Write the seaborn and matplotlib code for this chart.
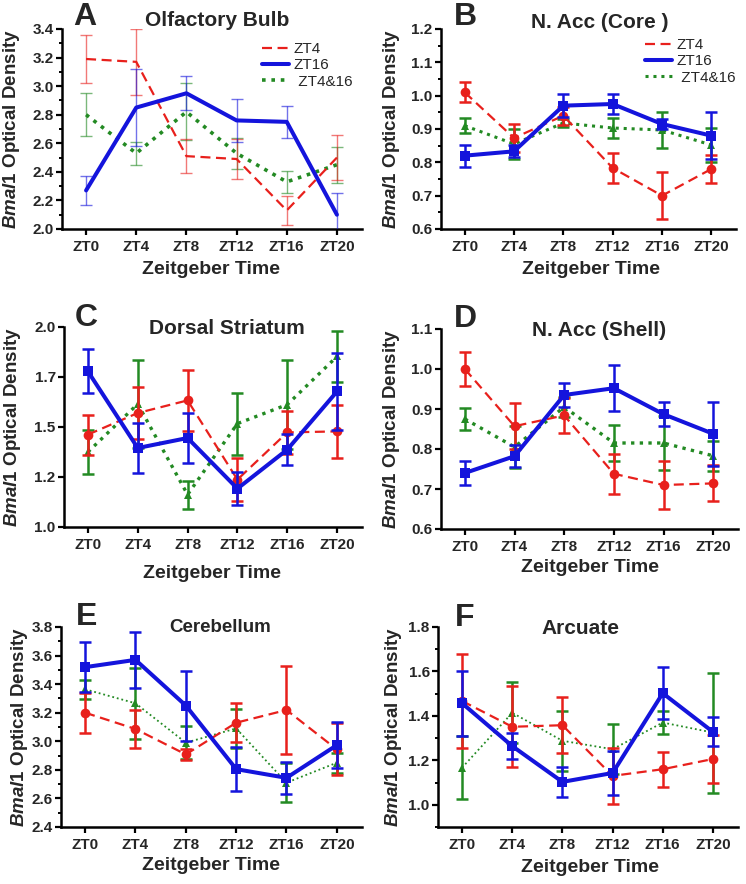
import numpy as np
import pandas as pd
import matplotlib
matplotlib.use("Agg")
import matplotlib.pyplot as plt
from matplotlib.ticker import AutoMinorLocator
import seaborn as sns

sns.set_style("ticks")
plt.rcParams["font.family"] = ["Liberation Sans", "DejaVu Sans"]
plt.rcParams["font.weight"] = "bold"
plt.rcParams["mathtext.fontset"] = "custom"
plt.rcParams["mathtext.it"] = "Liberation Sans:italic:bold"
plt.rcParams["mathtext.rm"] = "Liberation Sans:bold"
plt.rcParams["mathtext.bf"] = "Liberation Sans:bold"

# ---------------- data ----------------
zt_labels = ["ZT0", "ZT4", "ZT8", "ZT12", "ZT16", "ZT20"]
series_names = ["ZT4", "ZT16", "ZT4&16"]

# A: Olfactory Bulb
A_zt4 = [3.19, 3.17, 2.51, 2.49, 2.13, 2.50]
A_zt4_sem = [0.165, 0.23, 0.12, 0.14, 0.10, 0.155]
A_zt16 = [2.27, 2.85, 2.95, 2.76, 2.75, 2.10]
A_zt16_sem = [0.10, 0.27, 0.12, 0.15, 0.11, 0.15]
A_both = [2.80, 2.53, 2.82, 2.53, 2.33, 2.45]
A_both_sem = [0.15, 0.08, 0.20, 0.11, 0.075, 0.125]

# B: N. Acc (Core)
B_zt4 = [1.01, 0.873, 0.94, 0.783, 0.70, 0.78]
B_zt4_sem = [0.03, 0.042, 0.027, 0.045, 0.07, 0.043]
B_zt16 = [0.82, 0.833, 0.97, 0.975, 0.915, 0.88]
B_zt16_sem = [0.033, 0.018, 0.035, 0.03, 0.015, 0.07]
B_both = [0.91, 0.855, 0.918, 0.903, 0.897, 0.852]
B_both_sem = [0.022, 0.045, 0.013, 0.03, 0.055, 0.052]

# C: Dorsal Striatum
C_zt4 = [1.462, 1.57, 1.633, 1.237, 1.473, 1.478]
C_zt4_sem = [0.10, 0.13, 0.153, 0.106, 0.108, 0.132]
C_zt16 = [1.778, 1.395, 1.445, 1.192, 1.387, 1.678]
C_zt16_sem = [0.11, 0.125, 0.127, 0.083, 0.076, 0.193]
C_both = [1.375, 1.615, 1.162, 1.517, 1.612, 1.853]
C_both_sem = [0.108, 0.22, 0.07, 0.155, 0.223, 0.128]

# D: N. Acc (Shell)
D_zt4 = [1.0, 0.857, 0.884, 0.738, 0.71, 0.714]
D_zt4_sem = [0.043, 0.058, 0.043, 0.05, 0.06, 0.045]
D_zt16 = [0.74, 0.782, 0.935, 0.952, 0.887, 0.838]
D_zt16_sem = [0.03, 0.028, 0.03, 0.058, 0.03, 0.08]
D_both = [0.875, 0.805, 0.905, 0.815, 0.815, 0.783]
D_both_sem = [0.027, 0.053, 0.025, 0.044, 0.067, 0.038]

# E: Cerebellum
E_zt4 = [3.20, 3.086, 2.908, 3.13, 3.219, 2.943]
E_zt4_sem = [0.14, 0.135, 0.04, 0.137, 0.307, 0.182]
E_zt16 = [3.519, 3.57, 3.25, 2.805, 2.744, 2.973]
E_zt16_sem = [0.173, 0.197, 0.245, 0.153, 0.113, 0.16]
E_both = [3.364, 3.266, 2.99, 3.09, 2.71, 2.85]
E_both_sem = [0.065, 0.25, 0.115, 0.137, 0.135, 0.07]

# F: Arcuate
F_zt4 = [1.467, 1.351, 1.358, 1.13, 1.16, 1.206]
F_zt4_sem = [0.21, 0.183, 0.125, 0.125, 0.078, 0.108]
F_zt16 = [1.457, 1.264, 1.103, 1.143, 1.502, 1.328]
F_zt16_sem = [0.147, 0.057, 0.068, 0.098, 0.116, 0.065]
F_both = [1.167, 1.414, 1.288, 1.25, 1.37, 1.325]
F_both_sem = [0.141, 0.137, 0.134, 0.112, 0.053, 0.27]

panel_letters = ["A", "B", "C", "D", "E", "F"]
panel_titles = ["Olfactory Bulb", "N. Acc (Core )", "Dorsal Striatum",
                "N. Acc (Shell)", "Cerebellum", "Arcuate"]
A_yticks = [2.0, 2.2, 2.4, 2.6, 2.8, 3.0, 3.2, 3.4]
B_yticks = [0.6, 0.7, 0.8, 0.9, 1.0, 1.1, 1.2]
C_yticks = [1.0, 1.25, 1.5, 1.75, 2.0]
C_yticklabels = ["1.0", "1.2", "1.5", "1.7", "2.0"]
D_yticks = [0.6, 0.7, 0.8, 0.9, 1.0, 1.1]
E_yticks = [2.4, 2.6, 2.8, 3.0, 3.2, 3.4, 3.6, 3.8]
F_yticks = [1.0, 1.2, 1.4, 1.6, 1.8]

# ---------------- layout ----------------
W, H = 746, 884
fig = plt.figure(figsize=(W / 100, H / 100), dpi=100)
fig.patch.set_facecolor("white")

RED = "#e8201c"
BLUE = "#1414dc"
GREEN = "#238a23"


def rect(l, r, t, b):
    return [l / W, 1 - b / H, (r - l) / W, (b - t) / H]


panels = [
    dict(data=(A_zt4, A_zt4_sem, A_zt16, A_zt16_sem, A_both, A_both_sem),
         rect=(62, 362, 29, 229), ylim=(2.0, 3.4), yticks=A_yticks, ylabels=None,
         minor=True, markers=False, legend=(0.665, 0.935), ylab_x=12,
         letter=(85, 17), title=(217, 21), tsize=15, xlab=(211, 270), glw=2.6, elw=1.0, ealpha=0.6),
    dict(data=(B_zt4, B_zt4_sem, B_zt16, B_zt16_sem, B_both, B_both_sem),
         rect=(441, 736, 29, 229), ylim=(0.6, 1.2), yticks=B_yticks, ylabels=None,
         minor=True, markers=True, legend=(0.69, 0.955), ylab_x=392,
         letter=(465, 17), title=(600, 23), tsize=15, xlab=(591, 269), glw=2.2, elw=1.8, ealpha=1.0),
    dict(data=(C_zt4, C_zt4_sem, C_zt16, C_zt16_sem, C_both, C_both_sem),
         rect=(64, 362, 327, 527), ylim=(1.0, 2.0), yticks=C_yticks, ylabels=C_yticklabels,
         minor=False, markers=True, legend=None, ylab_x=13,
         letter=(86, 318), title=(227, 328), tsize=15, xlab=(212, 573), glw=2.4, elw=1.8, ealpha=1.0),
    dict(data=(D_zt4, D_zt4_sem, D_zt16, D_zt16_sem, D_both, D_both_sem),
         rect=(441, 738, 329, 529), ylim=(0.6, 1.1), yticks=D_yticks, ylabels=None,
         minor=False, markers=True, legend=None, ylab_x=392,
         letter=(465, 319), title=(599, 330), tsize=15, xlab=(590, 568), glw=2.4, elw=1.8, ealpha=1.0),
    dict(data=(E_zt4, E_zt4_sem, E_zt16, E_zt16_sem, E_both, E_both_sem),
         rect=(61, 362, 627, 827), ylim=(2.4, 3.8), yticks=E_yticks, ylabels=None,
         minor=True, markers=True, legend=None, ylab_x=20,
         letter=(87, 617), title=(220, 628), tsize=13.5, xlab=(211, 866), glw=1.3, elw=1.8, ealpha=1.0),
    dict(data=(F_zt4, F_zt4_sem, F_zt16, F_zt16_sem, F_both, F_both_sem),
         rect=(438, 738, 627, 827), ylim=(0.9, 1.8), yticks=F_yticks, ylabels=None,
         minor=True, markers=True, legend=None, ylab_x=394,
         letter=(465, 618), title=(580, 628), tsize=15, xlab=(590, 868), glw=1.3, elw=1.8, ealpha=1.0),
]

x = np.arange(len(zt_labels))

for i, p in enumerate(panels):
    l, r, t, b = p["rect"]
    ax = fig.add_axes(rect(l, r, t, b))
    zt4, zt4s, zt16, zt16s, both, boths = p["data"]
    df = pd.DataFrame({"x": np.tile(x, 3),
                       "val": np.concatenate([zt4, zt16, both]),
                       "sem": np.concatenate([zt4s, zt16s, boths]),
                       "series": np.repeat(series_names, len(x))})
    styles = {
        "ZT4": dict(color=RED, lw=1.6, ls=(0, (4.5, 2.5)), marker="o", ms=7, z=3),
        "ZT16": dict(color=BLUE, lw=2.9, ls="-", marker="s", ms=7, z=4),
        "ZT4&16": dict(color=GREEN, lw=p["glw"], ls=(0, (1, 1.6)), marker="^", ms=6, z=2),
    }
    for name in ["ZT4&16", "ZT4", "ZT16"]:
        st = styles[name]
        sub = df[df["series"] == name]
        ax.errorbar(sub["x"], sub["val"], yerr=sub["sem"], fmt="none",
                    ecolor=st["color"], elinewidth=p["elw"], capsize=4.5,
                    capthick=p["elw"], alpha=p["ealpha"], zorder=st["z"] - 0.5)
        sns.lineplot(data=sub, x="x", y="val", ax=ax, color=st["color"],
                     linewidth=st["lw"], linestyle=st["ls"],
                     marker=st["marker"] if p["markers"] else None,
                     markersize=st["ms"], markeredgewidth=0,
                     errorbar=None, label=name, legend=False, zorder=st["z"])
    ax.set_xlim(-0.48, 5.5)
    ax.set_ylim(*p["ylim"])
    ax.set_xticks(x)
    ax.set_xticklabels(zt_labels)
    ax.set_yticks(p["yticks"])
    if p["ylabels"] is not None:
        ax.set_yticklabels(p["ylabels"])
    else:
        ax.set_yticklabels([f"{v:.1f}" for v in p["yticks"]])
    if p["minor"]:
        ax.yaxis.set_minor_locator(AutoMinorLocator(2))
    sns.despine(ax=ax)
    for s in ["left", "bottom"]:
        ax.spines[s].set_linewidth(1.8)
        ax.spines[s].set_color("black")
    ax.tick_params(axis="both", which="major", length=4, width=1.6, labelsize=11,
                   color="black", pad=2)
    ax.tick_params(axis="y", which="minor", length=2.5, width=1.4, color="black")
    ax.tick_params(axis="x", pad=4)
    for lab in ax.get_xticklabels() + ax.get_yticklabels():
        lab.set_fontweight("bold")
    ax.set_xlabel("")
    ax.set_ylabel(r"$Bmal1$ Optical Density", fontsize=13.5, fontweight="bold")
    ax.yaxis.label.set_verticalalignment("center")
    ax.yaxis.set_label_coords((p["ylab_x"] - l) / (r - l), 0.5)
    fig.text(p["xlab"][0] / W, 1 - p["xlab"][1] / H, "Zeitgeber Time",
             ha="center", va="center", fontsize=14, fontweight="bold")
    fig.text(p["letter"][0] / W, 1 - p["letter"][1] / H, panel_letters[i],
             ha="center", va="center", fontsize=23, fontweight="bold")
    fig.text(p["title"][0] / W, 1 - p["title"][1] / H, panel_titles[i],
             ha="center", va="center", fontsize=p["tsize"], fontweight="bold")
    if p["legend"] is not None:
        handles = [plt.Line2D([], [], color=styles[n]["color"], lw=styles[n]["lw"],
                              ls=styles[n]["ls"]) for n in series_names]
        leg = ax.legend(handles, ["ZT4", "ZT16", " ZT4&16"], loc="upper left",
                        bbox_to_anchor=p["legend"], frameon=False, fontsize=11,
                        handlelength=1.8, handletextpad=0.3, labelspacing=0.15,
                        borderpad=0, borderaxespad=0)
        for txt in leg.get_texts():
            txt.set_fontweight("normal")

fig.savefig("out.png", dpi=100, facecolor="white")
